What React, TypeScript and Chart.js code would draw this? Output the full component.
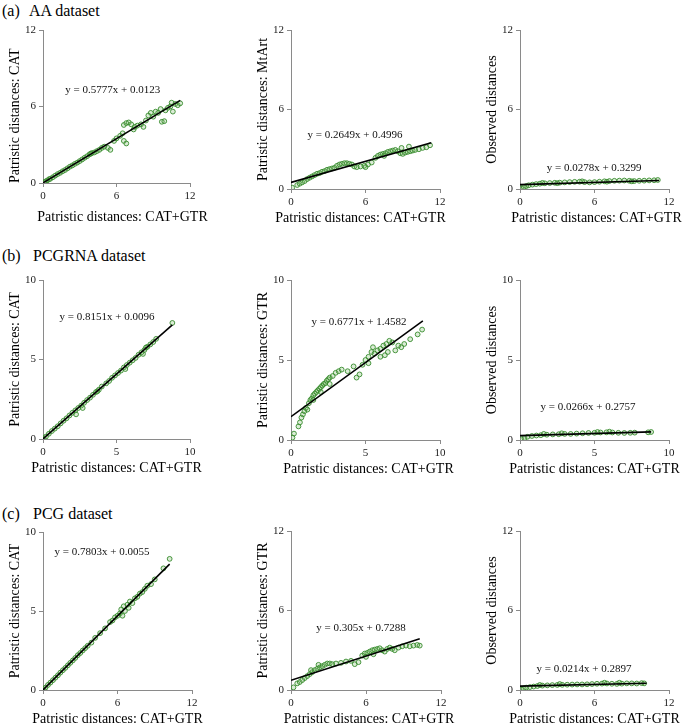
import React, { useEffect, useRef } from "react";
import { Chart, registerables } from "chart.js";
Chart.register(...registerables);

const FONT = '"Liberation Serif", "Times New Roman", Times, serif';
const AXIS = "#8a8a8a";
const TEXT = "#222";

// ---------------- data ----------------
const aaCatPoints: [number, number][] = [
  [0.1, 0.06], [0.2, 0.12], [0.35, 0.2], [0.5, 0.3], [0.6, 0.33], [0.8, 0.45], [1.0, 0.58], [1.2, 0.7],
  [1.4, 0.8], [1.6, 0.92], [1.8, 1.02], [2.0, 1.15], [2.2, 1.28], [2.4, 1.38], [2.6, 1.5], [2.8, 1.6],
  [3.0, 1.72], [3.2, 1.85], [3.4, 1.98], [3.6, 2.1], [3.8, 2.25], [3.9, 2.3], [4.0, 2.35], [4.2, 2.4],
  [4.4, 2.5], [4.6, 2.6], [4.8, 2.75], [5.0, 2.85], [5.3, 2.75], [5.5, 2.6], [5.8, 3.3], [6.0, 3.5],
  [6.3, 3.7], [6.5, 3.9], [6.6, 3.3], [6.8, 3.1], [6.6, 4.55], [6.8, 4.7], [7.0, 4.75], [7.2, 4.6],
  [7.4, 4.2], [7.5, 4.4], [7.7, 4.5], [8.0, 4.6], [8.2, 4.4], [8.4, 4.9], [8.6, 5.3], [8.8, 5.5],
  [9.0, 5.2], [9.2, 5.6], [9.4, 5.5], [9.7, 4.8], [9.9, 4.85], [9.6, 5.8], [10.0, 5.7], [10.2, 5.9],
  [10.4, 6.0], [10.6, 5.6], [10.8, 6.2], [11.0, 6.1], [11.2, 6.25], [10.5, 6.3],
];
const aaMtArtPoints: [number, number][] = [
  [0.1, 0.1], [0.5, 0.3], [0.7, 0.4], [0.9, 0.5], [1.1, 0.6], [1.3, 0.75], [1.5, 0.85], [1.7, 0.95],
  [1.9, 1.05], [2.1, 1.15], [2.3, 1.2], [2.5, 1.3], [2.7, 1.35], [2.9, 1.45], [3.1, 1.5], [3.3, 1.55],
  [3.5, 1.6], [3.7, 1.75], [3.9, 1.85], [4.1, 1.9], [4.3, 1.95], [4.5, 1.95], [4.7, 1.9], [4.9, 1.85],
  [5.1, 1.7], [5.3, 1.65], [5.6, 1.7], [5.9, 1.75], [6.2, 1.85], [6.5, 2.0], [6.8, 2.35], [7.0, 2.5],
  [7.2, 2.6], [7.4, 2.65], [7.6, 2.7], [7.8, 2.8], [8.0, 2.85], [8.2, 2.9], [8.4, 2.95], [8.6, 2.85],
  [8.8, 2.7], [9.0, 2.65], [9.2, 2.75], [9.4, 2.8], [9.6, 2.85], [9.8, 2.9], [10.0, 2.95], [10.3, 3.0],
  [10.6, 3.1], [10.9, 3.15], [11.2, 3.3], [8.9, 3.1], [9.5, 3.2], [7.5, 2.5], [6.0, 1.65],
];
const aaObsPoints: [number, number][] = [
  [0.1, 0.05], [0.3, 0.15], [0.5, 0.22], [0.7, 0.28], [1.0, 0.33], [1.3, 0.37], [1.6, 0.4], [2.0, 0.43],
  [2.4, 0.45], [2.8, 0.47], [3.2, 0.48], [3.6, 0.5], [4.0, 0.52], [4.4, 0.54], [4.8, 0.55], [5.2, 0.52],
  [5.6, 0.5], [6.0, 0.52], [6.4, 0.55], [6.8, 0.58], [7.2, 0.6], [7.6, 0.62], [8.0, 0.63], [8.4, 0.64],
  [8.8, 0.62], [9.2, 0.6], [9.6, 0.62], [10.0, 0.63], [10.4, 0.65], [10.8, 0.66], [11.1, 0.68],
  [1.8, 0.46], [3.0, 0.44], [5.0, 0.58], [7.0, 0.55], [9.0, 0.58],
];
const rnaCatPoints: [number, number][] = [
  [0.05, 0.05], [0.2, 0.15], [0.4, 0.33], [0.6, 0.5], [0.8, 0.65], [1.0, 0.8], [1.2, 0.98], [1.4, 1.15],
  [1.6, 1.3], [1.8, 1.48], [2.0, 1.65], [2.2, 1.8], [2.25, 1.55], [2.4, 1.95], [2.6, 2.1], [2.7, 1.95],
  [2.8, 2.28], [3.0, 2.45], [3.2, 2.6], [3.4, 2.78], [3.6, 2.95], [3.8, 3.1], [4.0, 3.3], [4.3, 3.5],
  [4.5, 3.65], [4.7, 3.85], [4.9, 4.0], [5.1, 4.15], [5.3, 4.3], [5.5, 4.5], [5.7, 4.65], [5.9, 4.8],
  [6.1, 4.95], [6.3, 5.1], [6.5, 5.3], [6.7, 5.45], [6.9, 5.6], [7.1, 5.8], [7.3, 5.95], [7.5, 6.1],
  [7.7, 6.3], [6.8, 5.35], [7.0, 5.75], [8.8, 7.3], [5.6, 4.4], [3.7, 3.0],
];
const rnaGtrPoints: [number, number][] = [
  [0.1, 0.15], [0.2, 0.4], [0.5, 0.85], [0.6, 1.1], [0.7, 1.4], [0.8, 1.6], [0.9, 1.8], [1.0, 2.0],
  [1.1, 1.9], [1.2, 2.3], [1.3, 2.5], [1.4, 2.6], [1.5, 2.8], [1.6, 2.9], [1.7, 3.0], [1.8, 3.1],
  [1.9, 3.2], [2.0, 3.3], [2.1, 3.4], [2.2, 3.5], [2.3, 3.55], [2.4, 3.7], [2.5, 3.8], [2.6, 3.9],
  [2.8, 4.0], [3.0, 4.2], [3.2, 4.3], [3.4, 4.4], [1.5, 2.5], [2.0, 3.0], [2.6, 3.5], [3.8, 4.3],
  [4.2, 4.6], [4.4, 3.9], [4.6, 4.1], [4.8, 4.7], [5.0, 5.0], [5.2, 5.2], [5.4, 5.5], [5.6, 5.4],
  [5.8, 5.6], [6.0, 5.7], [6.2, 5.9], [6.4, 6.0], [6.6, 6.2], [6.8, 6.1], [5.5, 5.8], [6.0, 5.2],
  [6.5, 5.5], [7.0, 5.6], [7.2, 5.9], [7.4, 5.8], [7.6, 6.0], [8.0, 6.3], [8.5, 6.6], [8.8, 6.9],
  [5.2, 4.8], [6.3, 5.3],
];
const rnaObsPoints: [number, number][] = [
  [0.1, 0.05], [0.3, 0.12], [0.5, 0.2], [0.8, 0.25], [1.1, 0.28], [1.4, 0.3], [1.8, 0.33], [2.2, 0.35],
  [2.6, 0.36], [3.0, 0.38], [3.4, 0.38], [3.8, 0.4], [4.2, 0.42], [4.6, 0.44], [5.0, 0.45], [5.4, 0.47],
  [5.8, 0.48], [6.2, 0.47], [6.6, 0.45], [7.0, 0.44], [7.4, 0.45], [7.7, 0.46], [8.8, 0.5], [8.6, 0.48],
  [1.6, 0.38], [2.8, 0.42], [5.2, 0.5], [6.0, 0.52],
];
const pcgCatPoints: [number, number][] = [
  [0.05, 0.05], [0.2, 0.15], [0.4, 0.32], [0.6, 0.47], [0.8, 0.62], [1.0, 0.78], [1.2, 0.93], [1.4, 1.1],
  [1.6, 1.25], [1.8, 1.4], [2.0, 1.56], [2.2, 1.72], [2.4, 1.87], [2.6, 2.03], [2.8, 2.2], [3.0, 2.34],
  [3.2, 2.5], [3.4, 2.65], [3.6, 2.8], [3.9, 3.0], [4.2, 3.3], [4.6, 3.6], [5.0, 3.9], [5.4, 4.3],
  [5.6, 4.4], [5.8, 4.6], [6.0, 4.7], [6.2, 4.85], [6.3, 5.1], [6.5, 5.3], [6.6, 5.0], [6.8, 5.4],
  [6.9, 5.2], [7.0, 5.6], [7.2, 5.5], [7.4, 5.8], [7.6, 5.9], [7.8, 6.1], [8.0, 6.2], [8.2, 6.4],
  [8.4, 6.6], [8.7, 6.7], [9.0, 7.0], [9.7, 7.7], [10.2, 8.3], [6.4, 4.7],
];
const pcgGtrPoints: [number, number][] = [
  [0.2, 0.2], [0.5, 0.5], [0.7, 0.6], [0.9, 0.75], [1.1, 0.9], [1.3, 1.05], [1.5, 1.2], [1.7, 1.35],
  [1.9, 1.5], [2.1, 1.6], [2.3, 1.7], [2.5, 1.8], [2.7, 1.9], [2.9, 2.0], [3.1, 2.0], [3.3, 1.95],
  [3.6, 2.0], [4.0, 2.05], [4.4, 2.15], [4.8, 2.2], [5.1, 1.95], [5.4, 2.1], [5.7, 2.6], [5.9, 2.75],
  [6.1, 2.8], [6.3, 2.9], [6.5, 3.0], [6.7, 3.05], [6.9, 3.1], [7.1, 3.15], [7.3, 3.0], [7.5, 2.9],
  [7.7, 3.1], [7.9, 3.2], [8.1, 3.1], [8.3, 3.0], [8.6, 3.2], [8.9, 3.3], [9.2, 3.35], [9.5, 3.3],
  [9.8, 3.35], [10.1, 3.4], [10.3, 3.35], [6.0, 2.5], [6.6, 2.7], [1.6, 1.5], [2.2, 1.9],
];
const pcgObsPoints: [number, number][] = [
  [0.1, 0.05], [0.3, 0.12], [0.5, 0.18], [0.8, 0.22], [1.1, 0.26], [1.4, 0.3], [1.8, 0.33], [2.2, 0.35],
  [2.6, 0.37], [3.0, 0.38], [3.4, 0.39], [3.8, 0.4], [4.2, 0.41], [4.6, 0.42], [5.0, 0.42], [5.4, 0.43],
  [5.8, 0.45], [6.2, 0.47], [6.6, 0.48], [7.0, 0.49], [7.4, 0.47], [7.8, 0.46], [8.2, 0.48], [8.6, 0.5],
  [9.0, 0.5], [9.4, 0.49], [9.8, 0.52], [10.0, 0.5], [6.8, 0.55], [3.2, 0.45], [1.6, 0.38], [8.0, 0.55],
];

// regression fits: [slope, intercept, last x of the fitted line]
const aaCatFit = [0.5777, 0.0123, 11.2];
const aaMtArtFit = [0.2649, 0.4996, 11.3];
const aaObsFit = [0.0278, 0.3299, 11.2];
const rnaCatFit = [0.8151, 0.0096, 8.8];
const rnaGtrFit = [0.6771, 1.4582, 8.85];
const rnaObsFit = [0.0266, 0.2757, 8.8];
const pcgCatFit = [0.7803, 0.0055, 10.2];
const pcgGtrFit = [0.305, 0.7288, 10.3];
const pcgObsFit = [0.0214, 0.2897, 10.2];

// axis ranges / ticks
const axisMax12 = 12;
const axisStep12 = 6;
const axisMax10 = 10;
const axisStep10 = 5;

const xTitle = "Patristic distances: CAT+GTR";
const rowTitles = [
  ["(a)", "AA dataset"],
  ["(b)", "PCGRNA dataset"],
  ["(c)", "PCG dataset"],
];

type Panel = {
  points: [number, number][];
  fit: number[];
  yTitle: string;
  xMax: number; xStep: number; yMax: number; yStep: number;
  // layout (pixels) of plot area
  L: number; R: number; T: number; B: number; xAxisH: number; yAlign: "start" | "center"; xShift: number;
  eq: [number, number]; // equation label centre in data units
};

const panels: Panel[] = [
  { points: aaCatPoints, fit: aaCatFit, yTitle: "Patristic distances: CAT", xMax: axisMax12, xStep: axisStep12, yMax: axisMax12, yStep: axisStep12, L: 43, R: 190, T: 30, B: 183, xAxisH: 47, yAlign: "start", xShift: 6, eq: [5.7, 7.3] },
  { points: aaMtArtPoints, fit: aaMtArtFit, yTitle: "Patristic distances: MtArt", xMax: axisMax12, xStep: axisStep12, yMax: axisMax12, yStep: axisStep12, L: 291, R: 440, T: 30, B: 189, xAxisH: 42, yAlign: "center", xShift: -5, eq: [5.15, 4.08] },
  { points: aaObsPoints, fit: aaObsFit, yTitle: "Observed distances", xMax: axisMax12, xStep: axisStep12, yMax: axisMax12, yStep: axisStep12, L: 520, R: 669, T: 30, B: 189, xAxisH: 42, yAlign: "center", xShift: 2, eq: [5.97, 1.58] },
  { points: rnaCatPoints, fit: rnaCatFit, yTitle: "Patristic distances: CAT", xMax: axisMax10, xStep: axisStep10, yMax: axisMax10, yStep: axisStep10, L: 43, R: 190, T: 280, B: 439, xAxisH: 42, yAlign: "center", xShift: 0, eq: [4.35, 7.67] },
  { points: rnaGtrPoints, fit: rnaGtrFit, yTitle: "Patristic distances: GTR", xMax: axisMax10, xStep: axisStep10, yMax: axisMax10, yStep: axisStep10, L: 291, R: 440, T: 280, B: 440, xAxisH: 42, yAlign: "center", xShift: 3, eq: [4.56, 7.37] },
  { points: rnaObsPoints, fit: rnaObsFit, yTitle: "Observed distances", xMax: axisMax10, xStep: axisStep10, yMax: axisMax10, yStep: axisStep10, L: 520, R: 669, T: 280, B: 440, xAxisH: 42, yAlign: "center", xShift: 0, eq: [4.56, 2.06] },
  { points: pcgCatPoints, fit: pcgCatFit, yTitle: "Patristic distances: CAT", xMax: axisMax12, xStep: axisStep12, yMax: axisMax10, yStep: axisStep10, L: 43, R: 192, T: 532, B: 690, xAxisH: 42, yAlign: "center", xShift: 0, eq: [4.75, 8.73] },
  { points: pcgGtrPoints, fit: pcgGtrFit, yTitle: "Patristic distances: GTR", xMax: axisMax12, xStep: axisStep12, yMax: axisMax12, yStep: axisStep12, L: 291, R: 441, T: 531, B: 690, xAxisH: 42, yAlign: "center", xShift: 3, eq: [5.6, 4.68] },
  { points: pcgObsPoints, fit: pcgObsFit, yTitle: "Observed distances", xMax: axisMax12, xStep: axisStep12, yMax: axisMax12, yStep: axisStep12, L: 520, R: 669, T: 531, B: 690, xAxisH: 42, yAlign: "center", xShift: 0, eq: [5.16, 1.58] },
];

const Y_AXIS_W = 42;
const PAD_T = 12;
const PAD_R = 24;
const PAD_L = 0;

function ScatterPanel({ p }: { p: Panel }) {
  const ref = useRef<HTMLCanvasElement | null>(null);
  const width = p.R - p.L + Y_AXIS_W + PAD_R + PAD_L;
  const height = p.B - p.T + PAD_T + p.xAxisH;

  useEffect(() => {
    if (!ref.current) return;
    const [slope, intercept, xEnd] = p.fit;
    const eqText = `y = ${slope}x + ${intercept}`;
    const textPlugin = {
      id: "panelText",
      afterDatasetsDraw(chart: any) {
        const { ctx, scales } = chart;
        ctx.save();
        ctx.font = `11px ${FONT}`;
        ctx.fillStyle = "#111";
        ctx.textAlign = "center";
        ctx.textBaseline = "middle";
        ctx.fillText(eqText, scales.x.getPixelForValue(p.eq[0]), scales.y.getPixelForValue(p.eq[1]));
        ctx.restore();
      },
      afterDraw(chart: any) {
        const { ctx, chartArea } = chart;
        ctx.save();
        ctx.font = `14px ${FONT}`;
        ctx.fillStyle = "#000";
        ctx.textAlign = "center";
        ctx.textBaseline = "middle";
        ctx.fillText(xTitle, (chartArea.left + chartArea.right) / 2 + p.xShift, chartArea.bottom + p.xAxisH - 12.4);
        ctx.restore();
      },
    };
    const tickFont = { family: FONT, size: 11 };
    const titleFont = { family: FONT, size: 14 };
    const chart = new Chart(ref.current, {
      type: "scatter",
      data: {
        datasets: [
          {
            type: "line",
            data: [
              { x: 0, y: intercept },
              { x: xEnd, y: slope * xEnd + intercept },
            ],
            borderColor: "#000",
            borderWidth: 1.6,
            pointRadius: 0,
            fill: false,
            order: 0,
          } as any,
          {
            type: "scatter",
            data: p.points.map(([x, y]) => ({ x, y })),
            pointStyle: "circle",
            pointRadius: 2.4,
            borderWidth: 1,
            borderColor: "rgba(55,140,45,0.9)",
            backgroundColor: "rgba(110,180,90,0.25)",
            order: 1,
          } as any,
        ],
      },
      options: {
        animation: false,
        responsive: false,
        maintainAspectRatio: false,
        layout: { padding: { top: PAD_T, right: PAD_R, left: PAD_L, bottom: 0 } },
        plugins: { legend: { display: false }, tooltip: { enabled: false } },
        scales: {
          x: {
            type: "linear",
            min: 0,
            max: p.xMax,
            ticks: { stepSize: p.xStep, font: tickFont, color: TEXT, padding: 3, maxRotation: 0 },
            grid: { display: true, drawOnChartArea: false, drawTicks: true, tickLength: 4, color: AXIS },
            border: { display: true, color: AXIS, width: 1 },
            title: { display: false },
            afterFit: (s: any) => {
              s.height = p.xAxisH;
            },
          },
          y: {
            type: "linear",
            min: 0,
            max: p.yMax,
            ticks: { stepSize: p.yStep, font: tickFont, color: TEXT, padding: 3 },
            grid: { display: true, drawOnChartArea: false, drawTicks: true, tickLength: 4, color: AXIS },
            border: { display: true, color: AXIS, width: 1 },
            title: { display: true, text: p.yTitle, font: titleFont, color: "#000", align: p.yAlign, padding: { top: 6, bottom: 0 } },
            afterFit: (s: any) => {
              s.width = Y_AXIS_W;
            },
          },
        },
      } as any,
      plugins: [textPlugin],
    });
    return () => chart.destroy();
  }, []);

  return (
    <canvas
      ref={ref}
      width={width}
      height={height}
      style={{ position: "absolute", left: p.L - Y_AXIS_W - PAD_L, top: p.T - PAD_T, width, height }}
    />
  );
}

const rowTitleTops = [3, 248, 506];

export default function App() {
  return (
    <div
      style={{
        position: "absolute",
        left: 0,
        top: 0,
        width: 685,
        height: 725,
        overflow: "hidden",
        background: "#fff",
        fontFamily: FONT,
      }}
    >
      {rowTitles.map(([tag, name], i) => (
        <div key={i} style={{ position: "absolute", top: rowTitleTops[i], left: 0, fontSize: 16, lineHeight: "16px", color: "#000", whiteSpace: "nowrap" }}>
          <span style={{ position: "absolute", left: 2 }}>{tag}</span>
          <span style={{ position: "absolute", left: i === 0 ? 29 : 33 }}>{name}</span>
        </div>
      ))}
      {panels.map((p, i) => (
        <ScatterPanel key={i} p={p} />
      ))}
    </div>
  );
}
